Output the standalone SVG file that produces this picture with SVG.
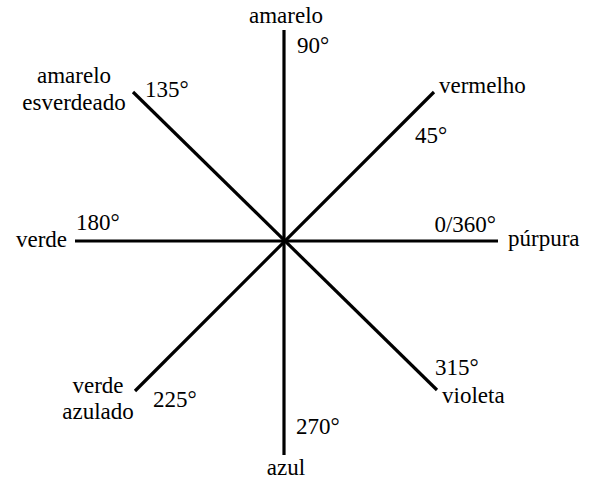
<svg xmlns="http://www.w3.org/2000/svg" width="590" height="479" viewBox="0 0 590 479">
<style>
.ax{stroke:#000;stroke-width:3.2;fill:none;stroke-linecap:butt}
</style>
<rect width="590" height="479" fill="#fff"/>
<g id="connectors">
<line class="ax" x1="284" y1="30" x2="284" y2="455"/>
<line class="ax" x1="75" y1="241" x2="498" y2="241"/>
<line class="ax" x1="434" y1="92" x2="135" y2="391"/>
<line class="ax" x1="133" y1="92" x2="437" y2="390"/>
</g>
<g id="amarelo"><text font-family="Liberation Serif" font-size="23" x="286" y="23" text-anchor="middle">amarelo</text><text font-family="Liberation Serif" font-size="23" x="297" y="53">90°</text></g>
<g id="vermelho"><text font-family="Liberation Serif" font-size="23" x="439" y="93">vermelho</text><text font-family="Liberation Serif" font-size="23" x="415" y="143">45°</text></g>
<g id="amarelo-esverdeado"><text font-family="Liberation Serif" font-size="23" x="74" y="83" text-anchor="middle">amarelo</text><text font-family="Liberation Serif" font-size="23" x="74" y="110" text-anchor="middle">esverdeado</text><text font-family="Liberation Serif" font-size="23" x="145" y="97">135°</text></g>
<g id="verde"><text font-family="Liberation Serif" font-size="23" x="67" y="247" text-anchor="end">verde</text><text font-family="Liberation Serif" font-size="23" x="76" y="230">180°</text></g>
<g id="purpura"><text font-family="Liberation Serif" font-size="23" x="496" y="232" text-anchor="end">0/360°</text><text font-family="Liberation Serif" font-size="23" x="508" y="246">púrpura</text></g>
<g id="verde-azulado"><text font-family="Liberation Serif" font-size="23" x="98" y="393" text-anchor="middle">verde</text><text font-family="Liberation Serif" font-size="23" x="98" y="419" text-anchor="middle">azulado</text><text font-family="Liberation Serif" font-size="23" x="153" y="407">225°</text></g>
<g id="azul"><text font-family="Liberation Serif" font-size="23" x="296" y="434">270°</text><text font-family="Liberation Serif" font-size="23" x="286" y="475" text-anchor="middle">azul</text></g>
<g id="violeta"><text font-family="Liberation Serif" font-size="23" x="435" y="375">315°</text><text font-family="Liberation Serif" font-size="23" x="442" y="403">violeta</text></g>
</svg>
